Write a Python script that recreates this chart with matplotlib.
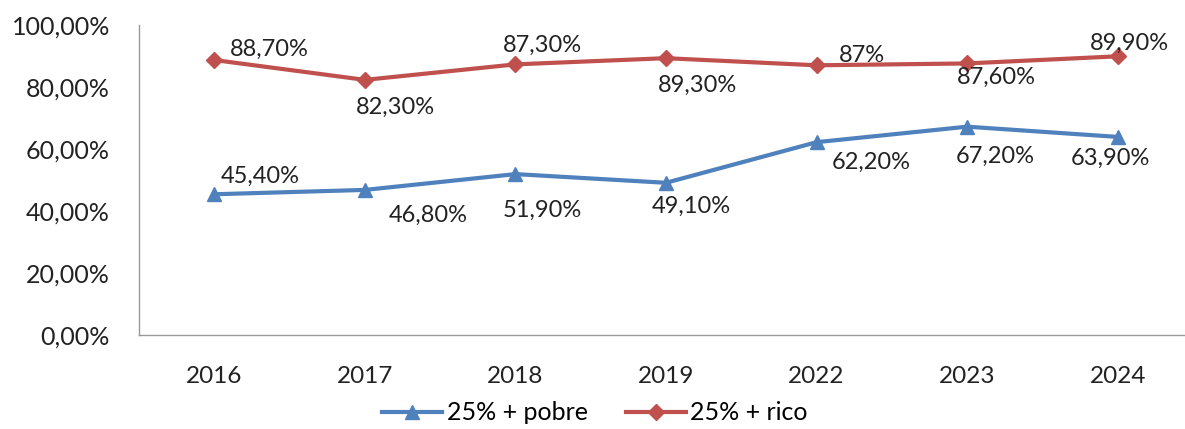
import matplotlib.pyplot as plt
from matplotlib.ticker import FuncFormatter

plt.rcParams['font.family'] = ['Lato', 'DejaVu Sans']

years = ['2016', '2017', '2018', '2019', '2022', '2023', '2024']
pobre = [45.4, 46.8, 51.9, 49.1, 62.2, 67.2, 63.9]
rico = [88.7, 82.3, 87.3, 89.3, 87.0, 87.6, 89.9]
pobre_labels = ['45,40%', '46,80%', '51,90%', '49,10%', '62,20%', '67,20%', '63,90%']
rico_labels = ['88,70%', '82,30%', '87,30%', '89,30%', '87%', '87,60%', '89,90%']

# label offsets in pixels (dx, dy)
pobre_off = [(46, 18), (63, -25), (27, -36), (25, -24), (55, -20), (28, -30), (-7, -21)]
rico_off = [(55, 11), (31, -27), (27, 19), (32, -27), (45, 10), (29, -14), (12, 13)]

W, H = 1185, 429
fig = plt.figure(figsize=(W / 100, H / 100), dpi=100)
ax = fig.add_axes([139 / W, 1 - 335 / H, (W - 139) / W, (335 - 25) / H])

x = list(range(len(years)))
blue, red = '#4F81BD', '#C0504D'
ax.plot(x, pobre, color=blue, lw=3, marker='^', ms=10, label='25% + pobre')
ax.plot(x, rico, color=red, lw=3, marker='D', ms=8, label='25% + rico')

for vals, labs, offs in [(pobre, pobre_labels, pobre_off), (rico, rico_labels, rico_off)]:
    for xi, v, lab, (dx, dy) in zip(x, vals, labs, offs):
        ax.annotate(lab, (xi, v), xytext=(dx, dy), textcoords='offset pixels',
                    ha='center', va='center', fontsize=17, color='#222222')

ax.set_ylim(0, 100)
ax.set_yticks([0, 20, 40, 60, 80, 100])
ax.yaxis.set_major_formatter(FuncFormatter(lambda v, p: f'{v:.2f}%'.replace('.', ',')))
ax.set_xticks(x)
ax.set_xticklabels(years)
ax.set_xlim(-0.5, 6.5 - 8 / 151)
ax.tick_params(axis='y', length=0, labelsize=18, colors='#222222', pad=21)
ax.tick_params(axis='x', length=0, labelsize=17.5, colors='#222222', pad=22)
for s in ['top', 'right']:
    ax.spines[s].set_visible(False)
for s in ['left', 'bottom']:
    ax.spines[s].set_color('#999999')
    ax.spines[s].set_linewidth(1)

fig.legend(loc='center', bbox_to_anchor=(595 / W, 1 - 413 / H), ncol=2, frameon=False,
           fontsize=18, handlelength=2.4, columnspacing=1.5, handletextpad=0.2)

fig.savefig('out.png', dpi=100)
